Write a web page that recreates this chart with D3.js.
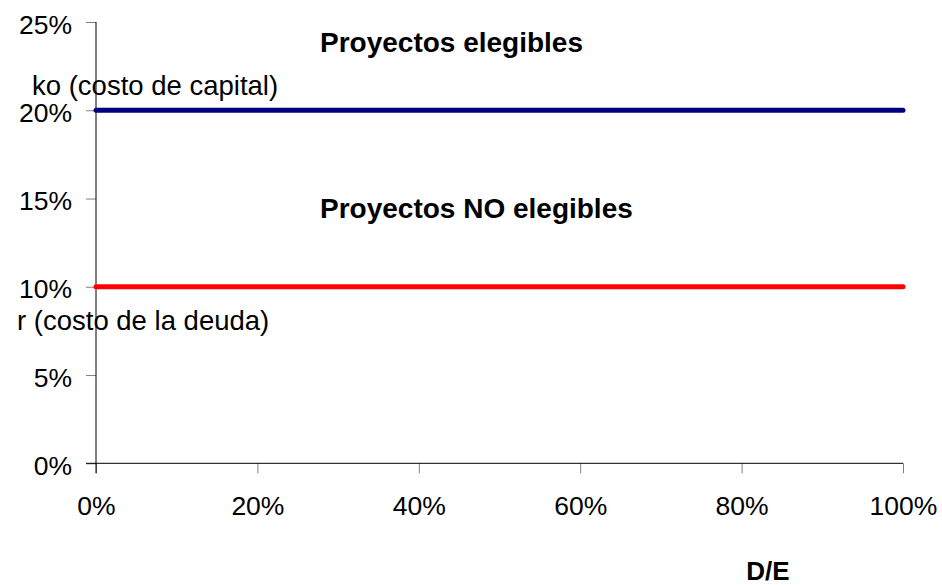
<!DOCTYPE html>
<html>
<head>
<meta charset="utf-8">
<script src="https://cdn.jsdelivr.net/npm/d3@7/dist/d3.min.js"></script>
<style>
  html, body { margin: 0; padding: 0; background: #fff; }
  svg { display: block; }
  text { font-family: "Liberation Sans", Arial, sans-serif; fill: #000; }
</style>
</head>
<body>
<svg id="chart" width="942" height="585"></svg>
<script>
// D/E ratio sampled every 10%
const debtEquity = [0, 0.1, 0.2, 0.3, 0.4, 0.5, 0.6, 0.7, 0.8, 0.9, 1.0];
// ko: cost of capital, constant across leverage
const costOfCapital = [0.20, 0.20, 0.20, 0.20, 0.20, 0.20, 0.20, 0.20, 0.20, 0.20, 0.20];
// r: cost of debt, constant across leverage
const costOfDebt = [0.10, 0.10, 0.10, 0.10, 0.10, 0.10, 0.10, 0.10, 0.10, 0.10, 0.10];
const yTicks = [0, 0.05, 0.10, 0.15, 0.20, 0.25];
const xTicks = [0, 0.2, 0.4, 0.6, 0.8, 1.0];
const seriesNames = ["ko (costo de capital)", "r (costo de la deuda)"];
const regionNames = ["Proyectos elegibles", "Proyectos NO elegibles"];
const xTitle = "D/E";

const svg = d3.select("#chart");
const x = d3.scaleLinear().domain([0, 1]).range([96, 903]);
const y = d3.scaleLinear().domain([0, 0.25]).range([463.3, 22]);
const pct = d3.format(".0%");

// Y axis
const gy = svg.append("g")
  .attr("transform", `translate(${x(0)},0)`)
  .call(d3.axisLeft(y).tickValues(yTicks).tickFormat(pct).tickSize(10).tickPadding(14).tickSizeOuter(0));
gy.select(".domain").remove();
gy.selectAll(".tick line").attr("stroke", "#808080");
gy.selectAll("text").attr("font-size", 26.5).attr("dy", "0.42em")
  .attr("font-family", "Liberation Sans, Arial, sans-serif").attr("fill", "#000");

// X axis
const gx = svg.append("g")
  .attr("transform", `translate(0,${y(0)})`)
  .call(d3.axisBottom(x).tickValues(xTicks).tickFormat(pct).tickSize(10).tickPadding(23).tickSizeOuter(0));
gx.select(".domain").remove();
gx.selectAll(".tick line").attr("stroke", "#808080");
gx.selectAll("text").attr("font-size", 26.5)
  .attr("font-family", "Liberation Sans, Arial, sans-serif").attr("fill", "#000");

// Axis lines
svg.append("line")
  .attr("x1", x(0)).attr("x2", x(0))
  .attr("y1", y(0.25)).attr("y2", y(0) + 10)
  .attr("stroke", "#000").attr("stroke-width", 1);
svg.append("line")
  .attr("x1", x(0) - 10).attr("x2", x(1))
  .attr("y1", y(0)).attr("y2", y(0))
  .attr("stroke", "#000").attr("stroke-width", 1);

// Series lines
const line = d3.line().x((d, i) => x(debtEquity[i])).y(d => y(d));
svg.append("path").datum(costOfCapital)
  .attr("d", line).attr("fill", "none")
  .attr("stroke", "#000080").attr("stroke-width", 5)
  .attr("stroke-linecap", "round").attr("stroke-linejoin", "round");
svg.append("path").datum(costOfDebt)
  .attr("d", line).attr("fill", "none")
  .attr("stroke", "#ff0000").attr("stroke-width", 5)
  .attr("stroke-linecap", "round").attr("stroke-linejoin", "round");

// Series labels
svg.append("text").attr("x", 32).attr("y", y(costOfCapital[0]) - 15)
  .attr("font-size", 27.5).text(seriesNames[0]);
svg.append("text").attr("x", 17).attr("y", y(costOfDebt[0]) + 43)
  .attr("font-size", 27.5).text(seriesNames[1]);

// Region labels
svg.append("text").attr("x", 320).attr("y", 52)
  .attr("font-size", 28).attr("font-weight", "bold").text(regionNames[0]);
svg.append("text").attr("x", 320).attr("y", 218)
  .attr("font-size", 28).attr("font-weight", "bold").text(regionNames[1]);

// X axis title
svg.append("text").attr("x", 768).attr("y", 580).attr("text-anchor", "middle")
  .attr("font-size", 26).attr("font-weight", "bold").text(xTitle);
</script>
</body>
</html>
